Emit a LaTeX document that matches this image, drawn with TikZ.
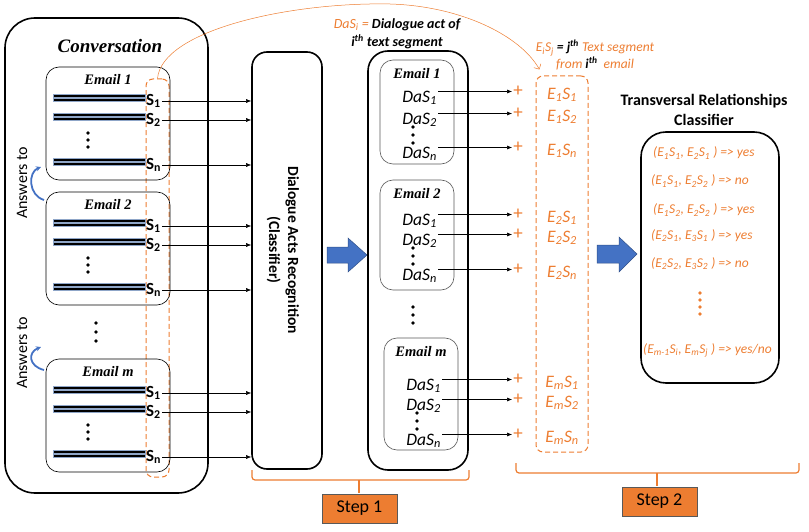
\documentclass[tikz,border=0pt]{standalone}
\usepackage{fontspec}
\setmainfont{Carlito}
\newfontfamily\tnrfont{Liberation Serif}
\usetikzlibrary{arrows.meta,positioning}
\definecolor{accorange}{HTML}{ED7D31}
\definecolor{accblue}{HTML}{4472C4}
\definecolor{barrim}{HTML}{8FA6C8}
\newcommand\Es[2]{E\textsubscript{#1}S\textsubscript{#2}}
\newcommand\Da[1]{DaS\textsubscript{#1}}
\tikzset{
  bigbox/.style={draw, line width=1.6pt},
  mailbox/.style={draw, line width=0.6pt, rounded corners=13pt},
  segbox/.style={draw=accorange, dashed, dash pattern=on 5pt off 3pt, line width=1pt, rounded corners=7pt},
  textbar/.style={draw=barrim, fill=black, line width=0.4pt},
  mailtitle/.style={font=\tnrfont\bfseries\itshape\fontsize{14.5}{14.5}\selectfont, inner sep=0pt},
  slabel/.style={font=\bfseries\fontsize{17}{17}\selectfont, inner sep=1pt},
  dalabel/.style={font=\itshape\fontsize{17.5}{17.5}\selectfont, inner sep=1pt},
  elabel/.style={font=\itshape\fontsize{17.5}{17.5}\selectfont, text=accorange, inner sep=1pt},
  pairlabel/.style={font=\itshape\fontsize{13.5}{13.5}\selectfont, text=accorange, inner sep=0pt, anchor=west},
  conn/.style={-{Latex[length=5pt,width=4pt]}, line width=0.5pt},
  bigarrow/.style={fill=accblue, draw=accblue!70!black, line width=0.5pt},
  brace/.style={draw=accorange, line width=1.2pt, rounded corners=3pt},
  stepbox/.style={draw=gray!70!black, fill=accorange, minimum width=75pt, minimum height=29pt, font=\fontsize{18}{18}\selectfont},
}
\begin{document}
\begin{tikzpicture}[x=1pt,y=-1pt]
    \useasboundingbox (0,0) rectangle (809,532);
    % conversation
    \draw[bigbox, rounded corners=30pt] (5,18) rectangle (208,493);
    \node[font=\tnrfont\bfseries\itshape\fontsize{19}{19}\selectfont] (conv) at (110,46) {Conversation};
    \node[segbox, minimum width=23pt, minimum height=398pt] (segL) at (157.5,278) {};
    % dialogue acts classifier
    \node[bigbox, rounded corners=15pt, minimum width=70pt, minimum height=417pt] (cls) at (287,260.5) {};
    \node[rotate=-90, align=center, font=\bfseries\fontsize{15.5}{19}\selectfont] (clstext) at (283,250)
        {Dialogue Acts Recognition\\(Classifier)};
    \foreach \t/\e/\k in {67/1/a,192/2/b,359/m/c} {
        \draw[mailbox] (46,\t) rectangle ++(124,113);
        \node[mailtitle] (mail\k) at (108,\t+13) {Email \e};
        \foreach \dy/\j in {31/1,50/2,95/n} {
            \draw[textbar] (53,\t+\dy-3.5) rectangle (145,\t+\dy-0.5);
            \draw[textbar] (53,\t+\dy+0.5) rectangle (145,\t+\dy+3.5);
            \node[slabel, anchor=west] (s\k\j) at (145,\t+\dy+3) {S\textsubscript{\j}};
            \draw[conn] (s\k\j.east) -- (s\k\j.east -| cls.west);
        }
        \foreach \dd in {0,7,14} \fill (88,\t+66+\dd) circle (1.8);
    }
    \foreach \dd in {0,9,18} \fill (96,323+\dd) circle (1.9);
    \node[rotate=90, font=\fontsize{16}{16}\selectfont] (ans1) at (22,183) {Answers to};
    \node[rotate=90, font=\fontsize{16}{16}\selectfont] (ans2) at (22,353) {Answers to};
    \draw[-{Stealth[length=5pt,width=5pt]}, accblue, line width=1.8pt] (44,200) .. controls (28,195) and (28,172) .. (41,167);
    \draw[-{Stealth[length=5pt,width=5pt]}, accblue, line width=1.8pt] (44,370) .. controls (28,366) and (28,352) .. (41,347);
    % step 1 arrow
    \filldraw[bigarrow] (327,247) -- (348,247) -- (348,238) -- (367,255) -- (348,272) -- (348,263) -- (327,263) -- cycle;
    % dialogue acts per email
    \draw[bigbox, rounded corners=20pt] (368,51) rectangle (468,470);
    \node[segbox, minimum width=52pt, minimum height=376pt] (segR) at (562,264) {};
    \foreach \t/\b/\x/\e/\k/\ya/\yb/\yn in {60/164/380/1/a/90/112/146,180/290/380/2/b/213/233/268,338/450/384/m/c/378/398/433} {
        \draw[mailbox, draw=gray!70!black] (\x,\t) rectangle (\x+74,\b);
        \node[mailtitle] (dmail\k) at (\x+37,\t+14) {Email \e};
        \foreach \y/\j in {\ya/1,\yb/2,\yn/n} {
            \node[dalabel, anchor=east] (d\k\j) at (\x+58,\y+8) {\Da{\j}};
            \node[text=accorange, font=\fontsize{19}{19}\selectfont, inner sep=1pt] (p\k\j) at (518,\y+1.5) {+};
            \node[elabel] (e\k\j) at (562,\y+5) {\Es{\e}{\j}};
            \draw[conn] (p\k\j.west -| d\k\j.east) -- (p\k\j.west);
        }
        \foreach \dd in {15,23,31} \fill (\x+33,\yb+\dd) circle (1.8);
    }
    \foreach \dd in {0,8,16} \fill (413,307+\dd) circle (1.9);
    % notes
    \node[align=center, font=\bfseries\itshape\fontsize{14}{18}\selectfont] (danote) at (397,34)
        {{\mdseries\color{accorange}\Da{i} =} Dialogue act of\\i\textsuperscript{th} text segment};
    \node[align=center, text=accorange, font=\itshape\fontsize{13.5}{16.5}\selectfont] (esnote) at (595,55)
        {\Es{i}{j} {\color{black}\bfseries = j\textsuperscript{th}} Text segment\\from {\color{black}\bfseries i\textsuperscript{th}}\ \ email};
    \draw[accorange, line width=0.5pt, -{Straight Barb[length=4pt]}] (segL.north) .. controls (162,30) and (290,2) .. (390,4)
        .. controls (460,6) and (520,35) .. ([xshift=4pt,yshift=6pt]segR.north west);
    % transversal relationships
    \filldraw[bigarrow] (597,245) -- (619,245) -- (619,237) -- (637,254) -- (619,272) -- (619,263) -- (597,263) -- cycle;
    \node[align=center, font=\bfseries\fontsize{16}{20}\selectfont] (reltitle) at (704,110)
        {Transversal Relationships\\Classifier};
    \node[bigbox, rounded corners=25pt, minimum width=138pt, minimum height=251pt] (rel) at (710,257.5) {};
    \node[pairlabel] (r1) at (653,153) {(\Es11, \Es21 ) => yes};
    \node[pairlabel] (r2) at (651,181) {(\Es11, \Es22 ) => no};
    \node[pairlabel] (r3) at (653,210) {(\Es12, \Es22 ) => yes};
    \node[pairlabel] (r4) at (651,236) {(\Es21, \Es31 ) => yes};
    \node[pairlabel] (r5) at (651,264) {(\Es22, \Es32 ) => no};
    \node[pairlabel] (r6) at (643,350) {(\Es{m-1}{i}, \Es{m}{j} ) => yes/no};
    \foreach \dd in {0,7,14,21} \fill[accorange] (700,293+\dd) circle (1.8);
    % steps
    \draw[brace] (252,470) -- (252,480) -- (469,480) -- (469,470);
    \draw[brace] (359,480) -- (359,493);
    \node[stepbox] (step1) at (359.5,508.5) {Step 1};
    \draw[brace] (516,463) -- (516,473) -- (799,473) -- (799,463);
    \draw[brace] (657,473) -- (657,486);
    \node[stepbox] (step2) at (659.5,501.5) {Step 2};
\end{tikzpicture}
\end{document}
